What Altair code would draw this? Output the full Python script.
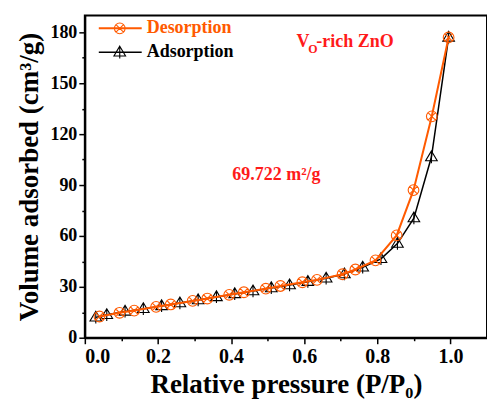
import altair as alt
import pandas as pd

# Adsorption branch (black triangles)
ads_p = [0.03, 0.06, 0.11, 0.16, 0.21, 0.26, 0.31, 0.36, 0.41, 0.46, 0.51,
         0.56, 0.61, 0.66, 0.71, 0.76, 0.81, 0.855, 0.90, 0.948, 0.995]
ads_v = [12.0, 13.5, 15.5, 17.0, 18.7, 20.4, 22.2, 24.0, 25.8, 27.5, 29.3,
         31.0, 33.0, 35.0, 37.5, 41.5, 46.5, 55.5, 70.5, 106.5, 177.0]

# Desorption branch (orange crossed circles)
des_p = [0.04, 0.095, 0.135, 0.195, 0.235, 0.295, 0.335, 0.395, 0.435, 0.495,
         0.535, 0.595, 0.635, 0.705, 0.74, 0.795, 0.853, 0.899, 0.949, 0.995]
des_v = [12.5, 14.7, 16.0, 18.2, 19.6, 21.7, 23.1, 25.3, 26.8, 28.9,
         30.5, 32.7, 34.1, 37.4, 40.2, 45.6, 60.3, 87.0, 130.5, 177.0]

x_ticks = [round(i * 0.1, 1) for i in range(11)]
y_ticks = list(range(0, 181, 15))

ORANGE = "#FF5A00"
RED = "#FF1A1A"
FONT = "Liberation Serif"

CIRCLE_X = ("M -1 0 A 1 1 0 1 0 1 0 A 1 1 0 1 0 -1 0 Z "
            "M -0.707 -0.707 L 0.707 0.707 M -0.707 0.707 L 0.707 -0.707")
TRI_PLUS = "M 0 -1 L 0.95 0.6 L -0.95 0.6 Z M 0 -1 L 0 1 M -1 0.6 L 1 0.6"

ads_df = pd.DataFrame({"P": ads_p, "V": ads_v})
des_df = pd.DataFrame({"P": des_p, "V": des_v})

xscale = alt.Scale(domain=[0, 1.1], nice=False, zero=False)
yscale = alt.Scale(domain=[0, 190], nice=False)

xaxis = alt.Axis(
    title="Relative pressure (P/P\u2080)",
    values=x_ticks,
    labelExpr="round(datum.value*10) % 2 == 0 ? format(datum.value, '.1f') : ''",
    tickSize={"condition": {"test": "round(datum.value*10) % 2 == 1", "value": 3}, "value": 6},
    labelOverlap=False,
    grid=False,
    labelFontSize=20,
    labelPadding=3,
    titlePadding=5,
)
yaxis = alt.Axis(
    title="Volume adsorbed (cm\u00b3/g)",
    values=y_ticks,
    labelExpr="datum.value % 30 == 0 ? datum.label : ''",
    tickSize={"condition": {"test": "datum.value % 30 != 0", "value": 3}, "value": 6},
    labelOverlap=False,
    grid=False,
    labelFontSize=18,
    labelPadding=2,
    titlePadding=6,
)

X = alt.X("P:Q", scale=xscale, axis=xaxis)
Y = alt.Y("V:Q", scale=yscale, axis=yaxis)

ads_line = alt.Chart(ads_df).mark_line(color="black", strokeWidth=1.5).encode(x=X, y=Y)
ads_pts = alt.Chart(ads_df).mark_point(
    shape=TRI_PLUS, size=150, color="black", filled=False, strokeWidth=1.1, opacity=1
).encode(x=X, y=Y)
des_line = alt.Chart(des_df).mark_line(color=ORANGE, strokeWidth=2).encode(x=X, y=Y)
des_pts = alt.Chart(des_df).mark_point(
    shape=CIRCLE_X, size=115, color=ORANGE, filled=False, strokeWidth=1.1, opacity=1
).encode(x=X, y=Y)

one = pd.DataFrame({"a": [0]})
layers = [ads_line, ads_pts, des_line, des_pts]

# manual legend
for name, col, shp, sz, sw, ypix in [
    ("Desorption", ORANGE, CIRCLE_X, 115, 2, 13),
    ("Adsorption", "black", TRI_PLUS, 150, 1.5, 37),
]:
    layers.append(alt.Chart(one).mark_rule(color=col, strokeWidth=sw).encode(
        x=alt.value(14), x2=alt.value(57), y=alt.value(ypix)))
    layers.append(alt.Chart(one).mark_point(shape=shp, size=sz, color=col, filled=False,
                                            strokeWidth=1.1, opacity=1).encode(
        x=alt.value(35), y=alt.value(ypix)))
    layers.append(alt.Chart(one).mark_text(text=name, color=col, font=FONT, fontSize=18,
                                           fontWeight="bold", align="left", baseline="middle").encode(
        x=alt.value(62), y=alt.value(ypix)))

# annotations
def txt(s, x, y, size, color=RED, align="left"):
    return alt.Chart(one).mark_text(text=s, color=color, font=FONT, fontSize=size,
                                    fontWeight="bold", align=align, baseline="middle").encode(
        x=alt.value(x), y=alt.value(y))

layers.append(txt("V", 212, 27, 18))
layers.append(txt("O", 224, 34, 12))
layers.append(txt("-rich ZnO", 232, 27, 18))
layers.append(txt("69.722 m\u00b2/g", 192, 160, 18, align="center"))

chart = alt.layer(*layers).properties(
    width=403, height=323,
    background="white",
    autosize=alt.AutoSizeParams(type="none"),
    padding={"left": 85, "top": 15, "right": 0, "bottom": 66},
).configure_view(
    stroke="black", strokeWidth=2
).configure_axis(
    domainColor="black", domainWidth=2, tickColor="black", tickWidth=1.5,
    labelFont=FONT, labelFontWeight="bold", labelColor="black",
    titleFont=FONT, titleFontWeight="bold", titleFontSize=27, titleColor="black",
)

chart.save("out.html", embed_options={"renderer": "svg", "actions": False})
